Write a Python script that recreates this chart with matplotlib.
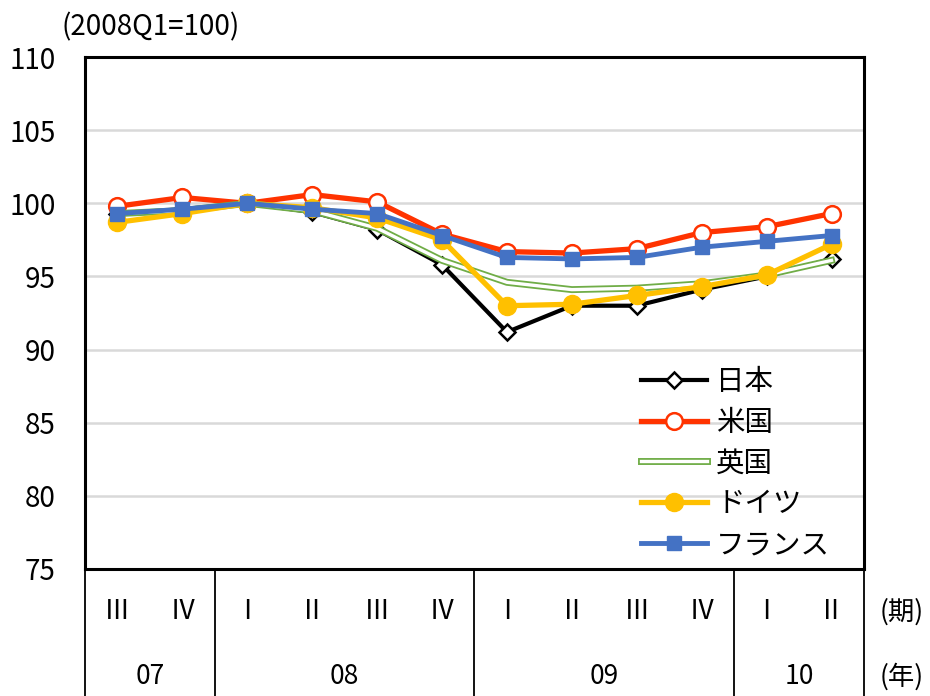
import numpy as np
import matplotlib
matplotlib.use("Agg")
import matplotlib.pyplot as plt
import matplotlib.patheffects as pe

plt.rcParams['font.family'] = ['Noto Sans CJK JP', 'DejaVu Sans']

# Data (2008Q1 = 100)
quarters = ["Ⅲ", "Ⅳ", "Ⅰ", "Ⅱ", "Ⅲ", "Ⅳ", "Ⅰ", "Ⅱ", "Ⅲ", "Ⅳ", "Ⅰ", "Ⅱ"]
years = ["07", "08", "09", "10"]
year_counts = [2, 4, 4, 2]

japan = [99.3, 99.6, 100.0, 99.4, 98.2, 95.8, 91.2, 93.0, 93.0, 94.1, 95.0, 96.2]
usa = [99.8, 100.4, 100.0, 100.6, 100.1, 97.9, 96.7, 96.6, 96.9, 98.0, 98.4, 99.3]
uk = [99.3, 99.5, 100.0, 99.5, 98.3, 96.1, 94.6, 94.1, 94.2, 94.5, 95.1, 96.1]
germany = [98.7, 99.3, 100.0, 99.7, 99.0, 97.5, 93.0, 93.1, 93.7, 94.3, 95.1, 97.2]
france = [99.3, 99.6, 100.0, 99.6, 99.3, 97.8, 96.3, 96.2, 96.3, 97.0, 97.4, 97.8]

FS = 18.5

fig = plt.figure(figsize=(9.3, 6.96), dpi=100)
ax = fig.add_axes([0.0914, 0.1825, 0.8376, 0.7355])

x = np.arange(len(quarters))

ax.plot(x, japan, color='black', lw=3, marker='D', ms=8.5, mfc='white',
        mec='black', mew=1.8, label='日本', zorder=3)
ax.plot(x, usa, color='#FF3300', lw=3.8, marker='o', ms=12, mfc='white',
        mec='#FF3300', mew=1.8, label='米国', zorder=4)
ax.plot(x, uk, color='white', lw=2.4, label='英国', zorder=5,
        path_effects=[pe.Stroke(linewidth=5, foreground='#70AD47'), pe.Normal()])
ax.plot(x, germany, color='#FFC000', lw=3.8, marker='o', ms=13,
        mfc='#FFC000', mec='#FFC000', label='ドイツ', zorder=6)
ax.plot(x, france, color='#4472C4', lw=3.5, marker='s', ms=10,
        mfc='#4472C4', mec='#4472C4', label='フランス', zorder=7)

ax.set_xlim(-0.5, len(quarters) - 0.5)
ax.set_ylim(75, 110)
ax.set_yticks(np.arange(75, 111, 5))
ax.yaxis.grid(True, color='#D9D9D9', lw=1.8)
ax.set_axisbelow(True)
ax.tick_params(axis='y', length=0, pad=21, labelsize=FS + 1.5)
ax.set_xticks([])
for s in ax.spines.values():
    s.set_linewidth(2.2)
    s.set_color('black')

# category table below the axes
trans = ax.get_xaxis_transform()
bounds = np.concatenate([[0], np.cumsum(year_counts)]) - 0.5
for b in bounds:
    ax.plot([b, b], [0, -0.3], color='black', lw=1.3, transform=trans, clip_on=False)
for i, q in enumerate(quarters):
    ax.text(i, -0.084, q, transform=trans, ha='center', va='center', fontsize=FS + 0.5)
for j, yr in enumerate(years):
    ax.text((bounds[j] + bounds[j + 1]) / 2, -0.211, yr, transform=trans,
            ha='center', va='center', fontsize=FS + 0.5)

fig.text(0.970, 1 - 612 / 696, '(期)', ha='center', va='center', fontsize=FS + 0.5)
fig.text(0.970, 1 - 677 / 696, '(年)', ha='center', va='center', fontsize=FS + 0.5)
fig.text(0.066, 1 - 27 / 696, '(2008Q1=100)', ha='left', va='center', fontsize=FS + 1.5)

leg = ax.legend(loc='upper left', bbox_to_anchor=(0.714, 0.395), frameon=False,
                fontsize=FS + 2, handlelength=2.3, handletextpad=0.33, labelspacing=0.38,
                borderpad=0, borderaxespad=0)

fig.savefig('out.png', dpi=100)
